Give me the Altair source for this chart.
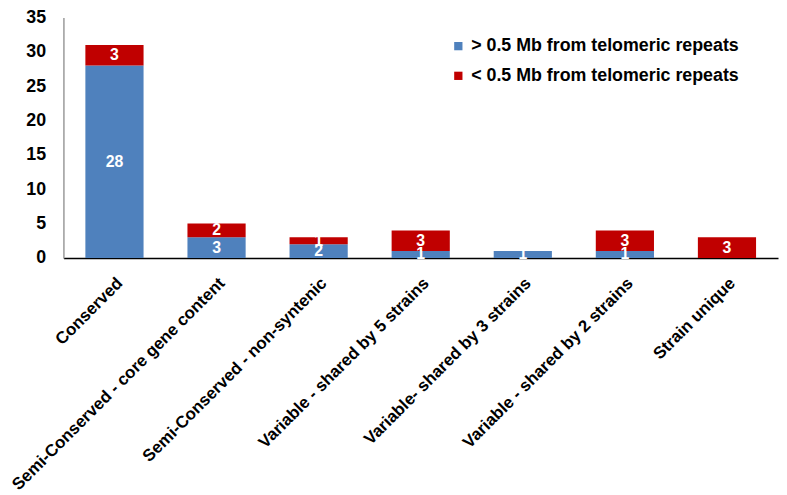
import altair as alt
import pandas as pd

categories = [
    "Conserved",
    "Semi-Conserved - core gene content",
    "Semi-Conserved - non-syntenic",
    "Variable - shared by 5 strains",
    "Variable- shared by 3 strains",
    "Variable - shared by 2 strains",
    "Strain unique",
]
far_values = [28, 3, 2, 1, 1, 1, 0]
near_values = [3, 2, 1, 3, 0, 3, 3]
series_names = ["> 0.5 Mb from telomeric repeats", "< 0.5 Mb from telomeric repeats"]
series_colors = ["#4F81BD", "#C00000"]
y_ticks = [0, 5, 10, 15, 20, 25, 30, 35]

rows = []
for c, f, n in zip(categories, far_values, near_values):
    rows.append({"cat": c, "series": series_names[0], "order": 0, "value": f})
    rows.append({"cat": c, "series": series_names[1], "order": 1, "value": n})
df = pd.DataFrame(rows)

FONT = "Liberation Sans"

base = alt.Chart(df).transform_stack(
    stack="value", groupby=["cat"], as_=["y0", "y1"],
    sort=[alt.SortField("order", order="ascending")]
).transform_calculate(mid="(datum.y0 + datum.y1) / 2")

x_scale = alt.Scale(paddingInner=0.43, paddingOuter=0.215)
x_axis = alt.Axis(labelAngle=-45, labelFontSize=17, labelFontWeight="bold",
                  labelFont=FONT, labelColor="#000", ticks=False,
                  labelPadding=17, domainColor="#000", domainWidth=1.5,
                  labelLimit=500, labelOverlap=False)
y_scale = alt.Scale(domain=[0, 35], nice=False)
y_axis = alt.Axis(values=y_ticks, grid=False, ticks=False,
                  labelFontSize=18, labelFontWeight="bold", labelFont=FONT,
                  labelColor="#000", labelPadding=18, domainColor="#999",
                  domainWidth=1.5, labelOverlap=False)

bars = base.mark_bar().encode(
    x=alt.X("cat:N", sort=categories, title=None, scale=x_scale, axis=x_axis),
    y=alt.Y("y0:Q", title=None, scale=y_scale, axis=y_axis),
    y2="y1:Q",
    color=alt.Color("series:N", scale=alt.Scale(domain=series_names, range=series_colors),
                    title=None,
                    legend=alt.Legend(orient="none", legendX=390, legendY=20,
                                      symbolType="square", symbolSize=70,
                                      symbolStrokeWidth=0, labelFontSize=18,
                                      labelFontWeight="bold", labelFont=FONT,
                                      labelColor="#000", rowPadding=12,
                                      labelLimit=500, symbolOffset=0)),
)

labels = base.transform_filter("datum.value > 0").mark_text(
    color="white", fontSize=16, fontWeight="bold", font=FONT, baseline="middle"
).encode(
    x=alt.X("cat:N", sort=categories, title=None, scale=x_scale, axis=x_axis),
    y=alt.Y("mid:Q", title=None, scale=y_scale, axis=y_axis),
    text=alt.Text("value:Q"),
)

chart = alt.layer(bars, labels).properties(
    width=722, height=243,
    autosize=alt.AutoSizeParams(type="none"),
    padding={"left": 56, "top": 7, "right": 1, "bottom": 237},
).configure(background="white").configure_view(stroke=None, strokeWidth=0)

chart.save("out.html", embed_options={"renderer": "svg", "actions": False})
